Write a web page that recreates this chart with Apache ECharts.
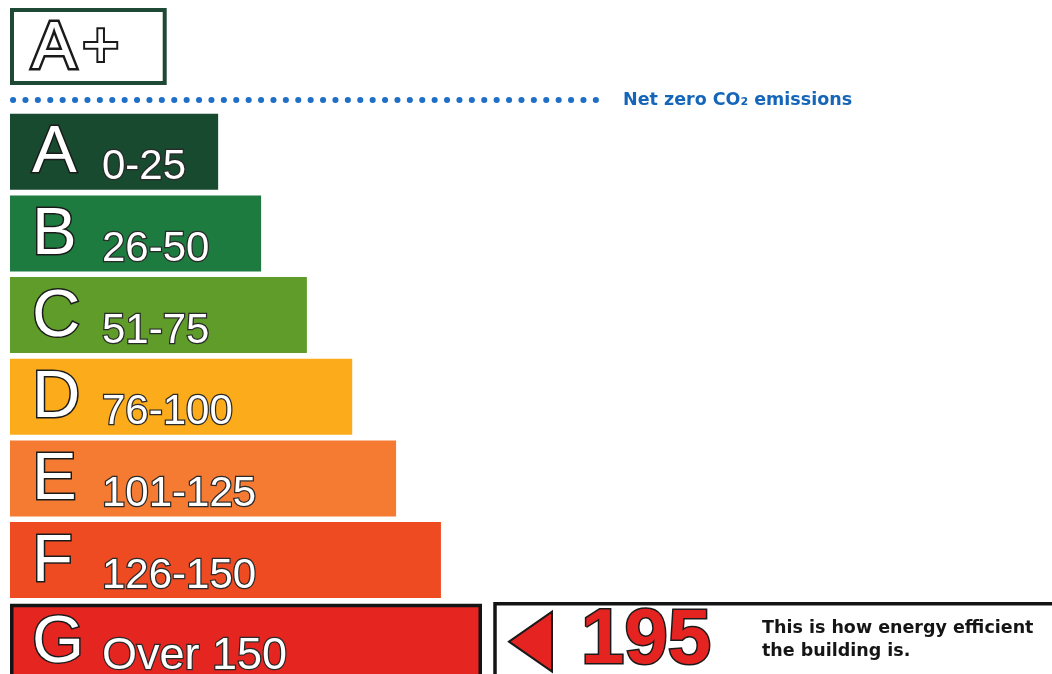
<!DOCTYPE html>
<html>
<head>
<meta charset="utf-8">
<script src="https://cdn.jsdelivr.net/npm/echarts@6/dist/echarts.min.js"></script>
<style>
  html, body { margin: 0; padding: 0; background: #fff; }
  #chart { width: 1052px; height: 674px; }
</style>
</head>
<body>
<div id="chart"></div>
<script>
// rating bands, top to bottom
const bands = ['A', 'B', 'C', 'D', 'E', 'F', 'G'];
const bandRanges = ['0-25', '26-50', '51-75', '76-100', '101-125', '126-150', 'Over 150'];
// bar length as % of the longest (G) bar
const bandLengths = [44.1, 53.2, 62.9, 72.5, 81.8, 91.3, 100];
const bandColors = ['#174a2e', '#1e7b3f', '#5f9c2a', '#fcab1a', '#f57a32', '#ef4b23', '#e52520'];

const topBand = 'A+';
const topLength = 33.2;

const currentBand = 'G';
const currentScore = 195;

const netZeroText = 'Net zero CO₂ emissions';
const currentText = ['This is how energy efficient', 'the building is.'];

const FONT = '"Liberation Sans", Arial, sans-serif';
const BAR_H = 76;

const chart = echarts.init(document.getElementById('chart'));

const bandData = bands.map((b, i) => {
  const isLast = i === bands.length - 1;
  const item = {
    value: bandLengths[i],
    itemStyle: { color: bandColors[i] },
    label: {
      formatter: '{letter|' + b + '}{' + (isLast ? 'rangeBig' : 'range') + '|' + bandRanges[i] + '}',
    },
  };
  if (b === currentBand) {
    item.itemStyle.borderColor = '#141414';
    item.itemStyle.borderWidth = 3.5;
  }
  return item;
});

// pointer box next to the current band
const renderCurrent = (params, api) => {
  const idx = api.value(1);
  const score = api.value(0);
  const end = api.coord([bandLengths[idx], idx]);
  const cy = end[1];
  const top = cy - BAR_H / 2;
  const left = end[0] + 13;
  return {
    type: 'group',
    children: [
      {
        type: 'rect',
        shape: { x: left, y: top, width: api.getWidth() - left + 20, height: BAR_H + 20 },
        style: { fill: '#fff', stroke: '#141414', lineWidth: 3.5 },
      },
      {
        type: 'polygon',
        shape: { points: [[left + 14, cy], [left + 57, cy - 30], [left + 57, cy + 30]] },
        style: { fill: '#e52421', stroke: '#1a1a1a', lineWidth: 2 },
      },
      {
        type: 'text',
        x: left + 86,
        y: cy,
        style: {
          text: String(score),
          font: 'bold 78px ' + FONT,
          fill: '#e52421',
          stroke: '#1a1a1a',
          lineWidth: 3,
          verticalAlign: 'middle',
        },
      },
      {
        type: 'text',
        x: left + 267,
        y: cy - 2,
        style: {
          text: currentText.join('\n'),
          font: 'bold 17.5px "DejaVu Sans", sans-serif',
          lineHeight: 23,
          fill: '#151515',
          verticalAlign: 'middle',
        },
      },
    ],
  };
};

const option = {
  animation: false,
  grid: [
    { left: 10, top: 111, width: 472, height: 571.5, outerBoundsMode: 'none' },
    { left: 10, top: 8, width: 472, height: 77, outerBoundsMode: 'none' },
  ],
  xAxis: [
    { type: 'value', gridIndex: 0, min: 0, max: 100, show: false },
    { type: 'value', gridIndex: 1, min: 0, max: 100, show: false },
  ],
  yAxis: [
    { type: 'category', gridIndex: 0, data: bands, inverse: true, show: false },
    { type: 'category', gridIndex: 1, data: [topBand], show: false },
  ],
  graphic: [
    {
      type: 'line',
      shape: { x1: 13, y1: 100, x2: 604, y2: 100 },
      style: { stroke: '#1f6fc6', lineWidth: 6, lineDash: [0.1, 12.3], lineCap: 'round' },
    },
    {
      type: 'text',
      x: 623,
      y: 100,
      style: {
        text: netZeroText,
        font: 'bold 17.5px "DejaVu Sans", sans-serif',
        fill: '#1566b8',
        verticalAlign: 'middle',
      },
    },
  ],
  series: [
    {
      type: 'bar',
      xAxisIndex: 0,
      yAxisIndex: 0,
      barWidth: BAR_H,
      data: bandData,
      label: {
        show: true,
        position: 'insideLeft',
        distance: 22,
        offset: [0, 2],
        rich: {
          letter: {
            fontFamily: FONT, fontSize: 67, width: 70, lineHeight: 70,
            color: '#fff', textBorderColor: '#1b1b1b', textBorderWidth: 3,
          },
          range: {
            fontFamily: FONT, fontSize: 42, lineHeight: 62, verticalAlign: 'bottom',
            color: '#fff', textBorderColor: '#2a2a2a', textBorderWidth: 2.5,
          },
          rangeBig: {
            fontFamily: FONT, fontSize: 45, lineHeight: 60, verticalAlign: 'bottom',
            color: '#fff', textBorderColor: '#2a2a2a', textBorderWidth: 2.5,
          },
        },
      },
    },
    {
      type: 'bar',
      xAxisIndex: 1,
      yAxisIndex: 1,
      barWidth: 77,
      data: [topLength],
      itemStyle: { color: '#fff', borderColor: '#1e4a35', borderWidth: 4 },
      label: {
        show: true,
        position: 'insideLeft',
        distance: 22,
        offset: [0, 3],
        formatter: '{a|A}{p|+}',
        rich: {
          a: {
            fontFamily: FONT, fontSize: 66, color: '#fff',
            textBorderColor: '#1a1a1a', textBorderWidth: 5,
          },
          p: {
            fontFamily: FONT, fontSize: 64, color: '#fff', padding: [0, 0, 0, 6],
            textBorderColor: '#1a1a1a', textBorderWidth: 4,
          },
        },
      },
    },
    {
      type: 'custom',
      xAxisIndex: 0,
      yAxisIndex: 0,
      encode: { x: 0, y: 1 },
      data: [[currentScore, currentBand]],
      renderItem: renderCurrent,
    },
  ],
};

chart.setOption(option);
window.addEventListener('resize', () => chart.resize());
</script>
</body>
</html>
